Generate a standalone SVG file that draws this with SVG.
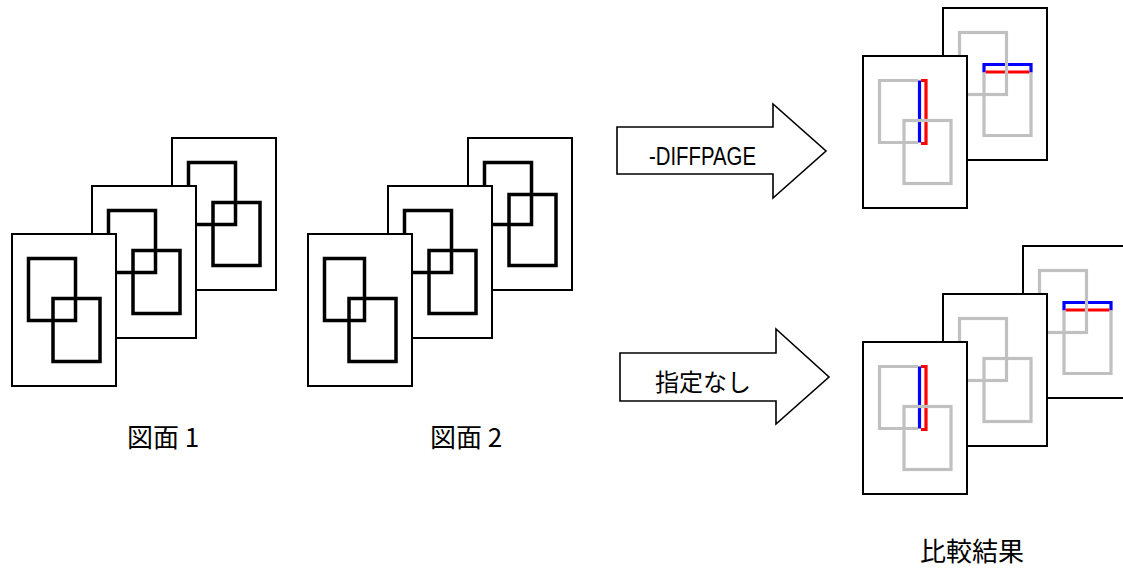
<svg xmlns="http://www.w3.org/2000/svg" width="1123" height="568" viewBox="0 0 1123 568">
<style>
.page{fill:#fff;stroke:#000;stroke-width:2}
.blk{fill:none;stroke:#000;stroke-width:3.5}
.gry{fill:none;stroke:#c0c0c0;stroke-width:3.2}
.blu{fill:none;stroke:#0000ff;stroke-width:3.2}
.red{fill:none;stroke:#ff0000;stroke-width:3.2}
.arrow{fill:#fff;stroke:#000;stroke-width:1.6;stroke-linejoin:miter}
.jp{font-family:"Noto Sans CJK JP","Noto Sans CJK SC",sans-serif;fill:#000}
.lat{font-family:"Liberation Sans",Arial,sans-serif;fill:#000}
</style>
<rect width="1123" height="568" fill="#fff"/>

<!-- Drawing 1 -->
<g id="d1-page3" transform="translate(172,138)">
<rect class="page" x="0" y="0" width="104" height="152"/>
<rect class="blk" x="16.5" y="24.5" width="47" height="62"/>
<rect class="blk" x="41" y="64.5" width="47" height="63"/>
</g>
<g id="d1-page2" transform="translate(92,186)">
<rect class="page" x="0" y="0" width="104" height="152"/>
<rect class="blk" x="16.5" y="24.5" width="47" height="62"/>
<rect class="blk" x="41" y="64.5" width="47" height="63"/>
</g>
<g id="d1-page1" transform="translate(12,234)">
<rect class="page" x="0" y="0" width="104" height="152"/>
<rect class="blk" x="16.5" y="24.5" width="47" height="62"/>
<rect class="blk" x="41" y="64.5" width="47" height="63"/>
</g>
<g id="label-d1"><text class="jp" x="127" y="447" font-size="26">図面 1</text></g>

<!-- Drawing 2 -->
<g id="d2-page3" transform="translate(468,138)">
<rect class="page" x="0" y="0" width="104" height="152"/>
<rect class="blk" x="16.5" y="24.5" width="47" height="62"/>
<rect class="blk" x="41" y="56.5" width="47" height="71"/>
</g>
<g id="d2-page2" transform="translate(388,186)">
<rect class="page" x="0" y="0" width="104" height="152"/>
<rect class="blk" x="16.5" y="24.5" width="47" height="62"/>
<rect class="blk" x="41" y="64.5" width="47" height="63"/>
</g>
<g id="d2-page1" transform="translate(308,234)">
<rect class="page" x="0" y="0" width="104" height="152"/>
<rect class="blk" x="16.5" y="24.5" width="40" height="62"/>
<rect class="blk" x="41" y="64.5" width="47" height="63"/>
</g>
<g id="label-d2"><text class="jp" x="430" y="447" font-size="26">図面 2</text></g>

<!-- Arrows -->
<g id="connectors">
<g id="arrow-diffpage">
<polygon class="arrow" points="617,127 773,127 773,104 826,151 773,198 773,174 617,174"/>
<text class="lat" x="649" y="165" font-size="25" textLength="107" lengthAdjust="spacingAndGlyphs">-DIFFPAGE</text>
</g>
<g id="arrow-default">
<polygon class="arrow" points="620,353 776,353 776,329 829,377 776,424 776,401 620,401"/>
<text class="jp" x="655" y="391" font-size="24">指定なし</text>
</g>
</g>

<!-- Result top (-DIFFPAGE) -->
<g id="rt-page3" transform="translate(943,8)">
<rect class="page" x="0" y="0" width="104" height="152"/>
<path class="blu" d="M41,64.5 V56.5 H88 V64.5"/>
<path class="red" d="M42.5,64 H86.5"/>
<path class="gry" d="M41,64.5 V127.5 H88 V64.5"/>
<rect class="gry" x="16.5" y="24.5" width="47" height="62"/>
</g>
<g id="rt-page1" transform="translate(863,56)">
<rect class="page" x="0" y="0" width="104" height="152"/>
<path class="blu" d="M56.5,24.5 V86.5"/>
<path class="red" d="M58,24.5 H63 V87.5 H58"/>
<path class="gry" d="M55,24.5 H16.5 V86.5 H55"/>
<rect class="gry" x="41" y="64.5" width="47" height="63"/>
</g>

<!-- Result bottom (default) -->
<g id="rb-page3" transform="translate(1023,246)">
<rect class="page" x="0" y="0" width="104" height="152"/>
<path class="blu" d="M41,64.5 V56.5 H88 V64.5"/>
<path class="red" d="M42.5,64 H86.5"/>
<path class="gry" d="M41,64.5 V127.5 H88 V64.5"/>
<rect class="gry" x="16.5" y="24.5" width="47" height="62"/>
</g>
<g id="rb-page2" transform="translate(943,294)">
<rect class="page" x="0" y="0" width="104" height="152"/>
<rect class="gry" x="16.5" y="24.5" width="47" height="62"/>
<rect class="gry" x="41" y="64.5" width="47" height="63"/>
</g>
<g id="rb-page1" transform="translate(863,342)">
<rect class="page" x="0" y="0" width="104" height="152"/>
<path class="blu" d="M56.5,24.5 V86.5"/>
<path class="red" d="M58,24.5 H63 V87.5 H58"/>
<path class="gry" d="M55,24.5 H16.5 V86.5 H55"/>
<rect class="gry" x="41" y="64.5" width="47" height="63"/>
</g>
<g id="label-result"><text class="jp" x="920" y="561" font-size="26">比較結果</text></g>
</svg>
